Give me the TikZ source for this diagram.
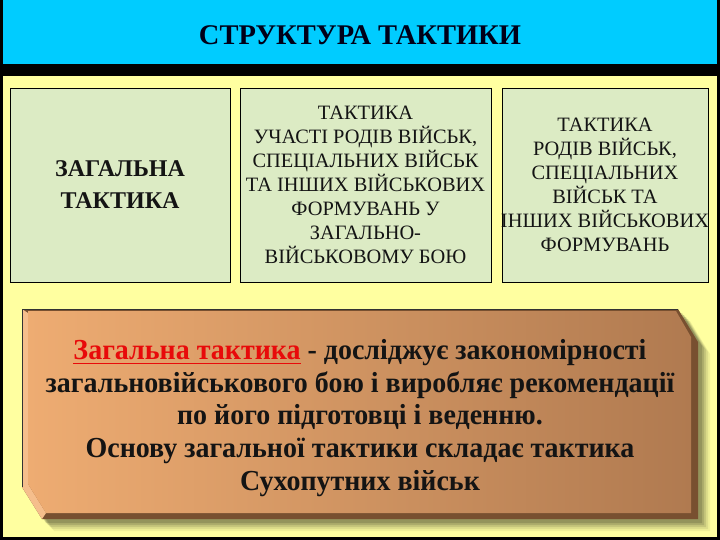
\documentclass[tikz,border=0pt]{standalone}
\usepackage{fontspec}
\setmainfont{Liberation Serif}
\newfontfamily\platefont[FakeStretch=0.965]{Liberation Serif}
\newcommand\myul[1]{\setbox0\hbox{#1}\rlap{\rule[-5pt]{\wd0}{1.8pt}}\box0}
\definecolor{hdrcyan}{RGB}{0,204,255}
\definecolor{bgyellow}{RGB}{255,255,160}
\definecolor{boxgreen}{RGB}{220,235,196}
\definecolor{plateL}{RGB}{238,172,114}
\definecolor{plateR}{RGB}{176,122,80}
\definecolor{plateDark}{RGB}{120,80,48}
\definecolor{plateLight}{RGB}{245,190,140}
\definecolor{inktext}{RGB}{20,20,20}
\definecolor{redtext}{RGB}{232,10,10}
\begin{document}
\begin{tikzpicture}[x=1pt,y=-1pt,
  greenbox/.style={draw=black, line width=0.9pt, fill=boxgreen, minimum height=194pt, inner sep=0pt},
  boxtext/.style={align=center, text=inktext, inner sep=0pt},
]
\useasboundingbox (0,0) rectangle (720,540);
% frame and backgrounds
\fill[black] (0,0) rectangle (720,540);
\fill[hdrcyan] (3,0) rectangle (717,64);
\fill[bgyellow] (3,76) rectangle (717,537);
\node[boxtext, font=\bfseries\fontsize{28.5}{30}\selectfont, text=black!90!blue] (title) at (360,35) {СТРУКТУРА ТАКТИКИ};
% three boxes
\node[greenbox, minimum width=220pt] (b1) at (120,185) {};
\node[greenbox, minimum width=251pt] (b2) at (365.5,185) {};
\node[greenbox, minimum width=206pt] (b3) at (605,185) {};
\node[boxtext, font=\bfseries\fontsize{24}{32}\selectfont] (t1) at (b1.center) {ЗАГАЛЬНА\\ТАКТИКА};
\node[boxtext, font=\fontsize{20.4}{24}\selectfont] (t2) at (b2.center) {ТАКТИКА\\УЧАСТІ РОДІВ ВІЙСЬК,\\СПЕЦІАЛЬНИХ ВІЙСЬК\\ТА ІНШИХ ВІЙСЬКОВИХ\\ФОРМУВАНЬ У\\ЗАГАЛЬНО-\\ВІЙСЬКОВОМУ БОЮ};
\node[boxtext, font=\fontsize{20.4}{24}\selectfont] (t3) at (b3.center) {ТАКТИКА\\РОДІВ ВІЙСЬК,\\СПЕЦІАЛЬНИХ\\ВІЙСЬК ТА\\ІНШИХ ВІЙСЬКОВИХ\\ФОРМУВАНЬ};
% plate shadow
\foreach \o/\a in {12/0.06,10/0.08,8/0.1,6/0.12,4/0.14}{
  \fill[black, opacity=\a] (22+\o,309+\o) -- (678+\o,309+\o) -- (698+\o,342+\o) -- (698+\o,519+\o) -- (42+\o,519+\o) -- (22+\o,487+\o) -- cycle;
}
% plate body
\fill[plateDark] (22,309) -- (678,309) -- (698,342) -- (698,519) -- (42,519) -- (22,487) -- cycle;
\fill[plateLight] (22,309) -- (28,313) -- (28,484) -- (46,513) -- (42,519) -- (22,487) -- cycle;
\shade[left color=plateL, right color=plateR] (28,311) -- (676,311) -- (691,337) -- (691,513) -- (46,513) -- (28,484) -- cycle;
\draw[black!80, line width=1pt] (22,487) -- (22,309) -- (678,309);
\node[boxtext, font=\platefont\bfseries\fontsize{29}{32.8}\selectfont] (pt) at (360,418) {{\color{redtext}\myul{Загальна тактика}} - досліджує закономірності\\загальновійськового бою і виробляє рекомендації\\по його підготовці і веденню.\\Основу загальної тактики складає тактика\\Сухопутних військ};
\end{tikzpicture}
\end{document}
